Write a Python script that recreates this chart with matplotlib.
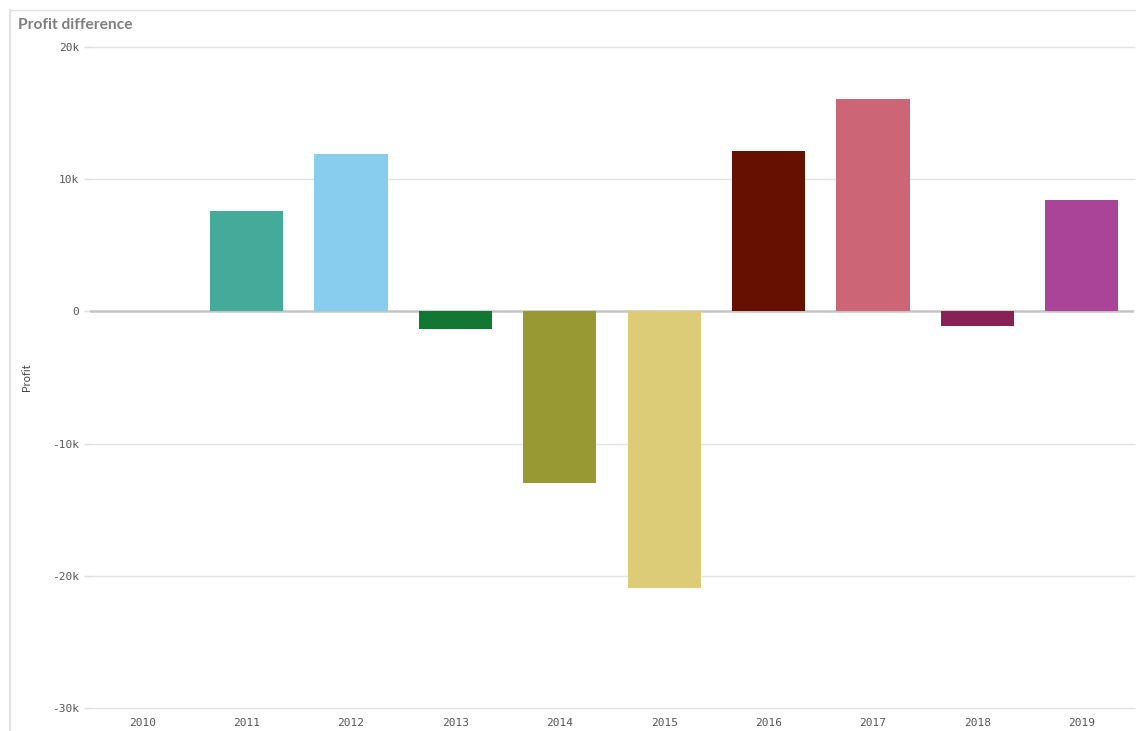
import matplotlib.pyplot as plt
from matplotlib.lines import Line2D

years = ['2010', '2011', '2012', '2013', '2014', '2015', '2016', '2017', '2018', '2019']
profit_diff = [0, 7600, 11900, -1300, -13000, -20900, 12100, 16100, -1100, 8400]
bar_colors = ['#332288', '#44aa99', '#88ccee', '#117733', '#999933',
              '#ddcc77', '#661100', '#cc6677', '#882255', '#aa4499']
y_ticks = [-30000, -20000, -10000, 0, 10000, 20000]
y_tick_labels = ['-30k', '-20k', '-10k', '0', '10k', '20k']

W, H = 1136, 731
fig = plt.figure(figsize=(W / 100, H / 100), dpi=100)
ax = fig.add_axes([90 / W, (H - 708) / H, (1134 - 90) / W, (708 - 47) / H])

x = list(range(len(years)))
ax.bar(x, profit_diff, width=0.7, color=bar_colors, zorder=3)

ax.set_xlim(-0.5, len(years) - 0.5)
ax.set_ylim(-30000, 20000)
ax.set_yticks(y_ticks)
ax.set_yticklabels(y_tick_labels, family='DejaVu Sans Mono', fontsize=8, color='#555555')
ax.set_xticks(x)
ax.set_xticklabels(years, family='DejaVu Sans Mono', fontsize=8, color='#555555')
ax.tick_params(axis='y', length=4, width=1, color='#dddddd', pad=4)
ax.tick_params(axis='x', length=0, pad=7)
for t in y_ticks:
    if t != 0:
        ax.axhline(t, color='#e3e3e3', linewidth=1, zorder=0, clip_on=False)
ax.axhline(0, color='#c4c4c4', linewidth=1.8, zorder=2)
for s in ax.spines.values():
    s.set_visible(False)

ax.set_ylabel('Profit', family='Lato', fontsize=8, color='#444444')
ax.yaxis.set_label_coords(-58 / (1134 - 90), 0.5)

# chart frame
fig.add_artist(Line2D([10 / W, 1 - 1 / W], [1 - 10 / H, 1 - 10 / H], color='#e0e0e0', lw=1))
fig.add_artist(Line2D([10 / W, 10 / W], [0, 1 - 10 / H], color='#e0e0e0', lw=1.5))

fig.text(18 / W, 1 - 25 / H, 'Profit difference', family='Lato', fontweight='bold',
         fontsize=11.2, color='#7f7f7f', va='center', ha='left')

fig.savefig('out.png', dpi=100)
